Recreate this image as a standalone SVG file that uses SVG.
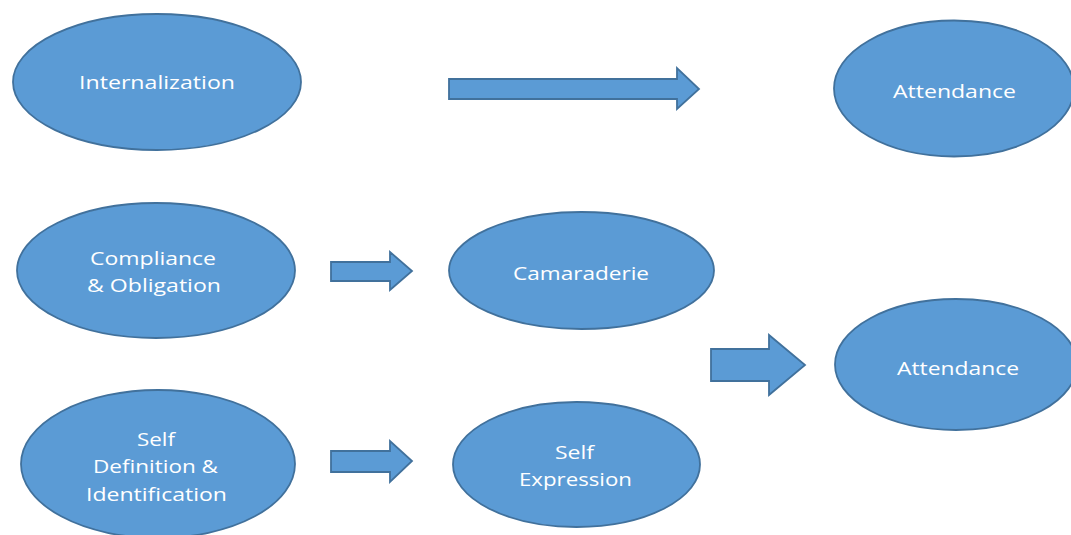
<svg xmlns="http://www.w3.org/2000/svg" width="1071" height="535" viewBox="0 0 1071 535">
<style>
.n{fill:#5B9BD5;stroke:#41719C;stroke-width:1.8}
.a{fill:#5B9BD5;stroke:#41719C;stroke-width:1.8;stroke-linejoin:miter}
.t{fill:#FFFFFF;font-family:"Open Sans","Liberation Sans",sans-serif;font-size:18px;text-anchor:middle}
</style>
<rect width="1071" height="535" fill="#FFFFFF"/>
<g id="internalization">
<ellipse class="n" cx="157" cy="82" rx="144" ry="68"/>
<text class="t" x="157" y="89" textLength="156" lengthAdjust="spacingAndGlyphs">Internalization</text>
</g>
<g id="attendance-top">
<ellipse class="n" cx="954" cy="88.5" rx="120" ry="68"/>
<text class="t" x="954.5" y="98" textLength="123" lengthAdjust="spacingAndGlyphs">Attendance</text>
</g>
<g id="compliance">
<ellipse class="n" cx="156" cy="270.5" rx="139" ry="67.5"/>
<text class="t" x="153" y="265" textLength="126" lengthAdjust="spacingAndGlyphs">Compliance</text>
<text class="t" x="154" y="292" textLength="134" lengthAdjust="spacingAndGlyphs">&amp; Obligation</text>
</g>
<g id="camaraderie">
<ellipse class="n" cx="581.5" cy="270.5" rx="132.5" ry="58.5"/>
<text class="t" x="581" y="280" textLength="136" lengthAdjust="spacingAndGlyphs">Camaraderie</text>
</g>
<g id="attendance-bottom">
<ellipse class="n" cx="956" cy="364.5" rx="121" ry="65.5"/>
<text class="t" x="958" y="375" textLength="122" lengthAdjust="spacingAndGlyphs">Attendance</text>
</g>
<g id="self-definition">
<ellipse class="n" cx="158" cy="464" rx="137" ry="74"/>
<text class="t" x="156" y="446" textLength="38" lengthAdjust="spacingAndGlyphs">Self</text>
<text class="t" x="155.5" y="473" textLength="125" lengthAdjust="spacingAndGlyphs">Definition &amp;</text>
<text class="t" x="156.5" y="501" textLength="141" lengthAdjust="spacingAndGlyphs">Identification</text>
</g>
<g id="self-expression">
<ellipse class="n" cx="576.5" cy="464.5" rx="123.5" ry="62.5"/>
<text class="t" x="574.5" y="459" textLength="39" lengthAdjust="spacingAndGlyphs">Self</text>
<text class="t" x="575.5" y="486" textLength="113" lengthAdjust="spacingAndGlyphs">Expression</text>
</g>
<g id="connectors">
<polygon class="a" points="449,79 677,79 677,68 699,89 677,109 677,99 449,99"/>
<polygon class="a" points="331,262 390,262 390,252 412,271 390,290 390,281 331,281"/>
<polygon class="a" points="331,451 390,451 390,441 412,461 390,482 390,472 331,472"/>
<polygon class="a" points="711,349 769,349 769,335 805,365 769,395 769,381 711,381"/>
</g>
</svg>
